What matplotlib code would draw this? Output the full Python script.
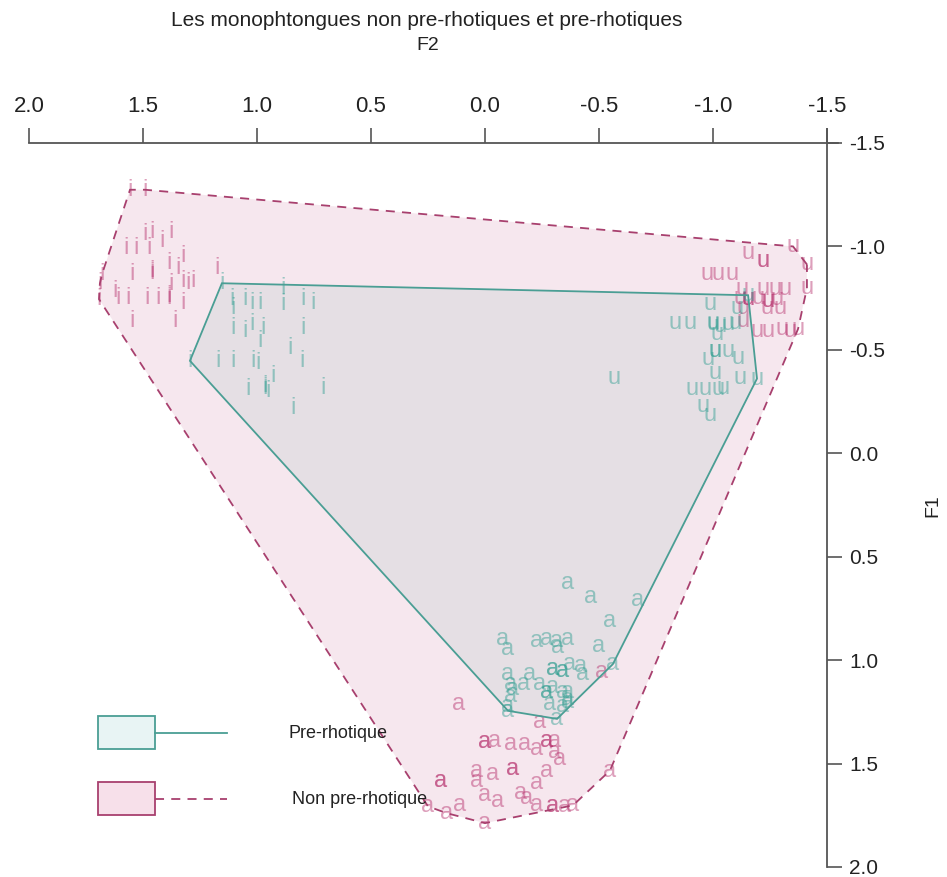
import matplotlib
matplotlib.use('Agg')
import matplotlib.pyplot as plt
from matplotlib.patches import Polygon, Rectangle
from matplotlib.lines import Line2D

plt.rcParams['font.family'] = ['Liberation Sans', 'DejaVu Sans']

# ---------------- data (F2, F1 normalised) ----------------
# non pre-rhotic /i/
nonpre_i_f2 = [1.557, 1.491, 1.491, 1.461, 1.417, 1.377, 1.575, 1.531, 1.474, 1.325,
               1.386, 1.461, 1.461, 1.548, 1.346, 1.680, 1.325, 1.303, 1.281, 1.377,
               1.175, 1.623, 1.610, 1.566, 1.482, 1.434, 1.386, 1.693, 1.325, 1.548,
               1.360, 1.689, 1.386]
nonpre_i_f1 = [-1.274, -1.274, -1.058, -1.072, -1.024, -1.072, -0.990, -0.990, -0.990, -0.952,
               -0.918, -0.880, -0.870, -0.865, -0.894, -0.865, -0.832, -0.822, -0.832, -0.817,
               -0.894, -0.784, -0.750, -0.750, -0.750, -0.750, -0.750, -0.745, -0.726, -0.639,
               -0.639, -0.822, -0.760]
# pre-rhotic /i/
pre_i_f2 = [1.294, 1.154, 0.886, 0.886, 1.110, 1.053, 1.022, 0.987, 0.798, 0.754,
            1.105, 1.053, 1.022, 0.987, 0.974, 0.798, 0.855, 0.803, 1.171, 1.105,
            1.018, 0.996, 0.930, 0.965, 0.952, 1.039, 0.711, 0.842, 0.965, 1.105]
pre_i_f1 = [-0.447, -0.822, -0.798, -0.721, -0.745, -0.745, -0.726, -0.726, -0.745, -0.726,
            -0.606, -0.591, -0.625, -0.543, -0.606, -0.606, -0.510, -0.447, -0.447, -0.447,
            -0.447, -0.438, -0.375, -0.317, -0.303, -0.313, -0.317, -0.221, -0.325, -0.700]
# non pre-rhotic /u/
nonpre_u_f2 = [-1.154, -1.219, -1.219, -1.351, -1.412, -0.974, -1.022, -1.083, -1.127, -1.219,
               -1.272, -1.316, -1.412, -1.118, -1.154, -1.154, -1.197, -1.241, -1.241, -1.281,
               -1.294, -1.237, -1.132, -1.193, -1.241, -1.303, -1.338, -1.373, -1.132]
nonpre_u_f1 = [-0.966, -0.928, -0.928, -1.000, -0.913, -0.865, -0.865, -0.865, -0.793, -0.793,
               -0.793, -0.793, -0.798, -0.750, -0.745, -0.745, -0.750, -0.736, -0.736, -0.745,
               -0.702, -0.702, -0.702, -0.591, -0.591, -0.601, -0.591, -0.601, -0.639]
# pre-rhotic /u/
pre_u_f2 = [-0.833, -0.899, -1.000, -1.031, -1.066, -1.096, -1.018, -1.009, -1.009, -0.978,
            -1.066, -1.110, -1.009, -1.118, -1.193, -0.908, -0.965, -1.022, -1.044, -0.956,
            -0.987, -0.987, -0.566, -1.154, -1.105, -1.000]
pre_u_f1 = [-0.630, -0.630, -0.625, -0.615, -0.625, -0.630, -0.577, -0.495, -0.495, -0.457,
            -0.495, -0.462, -0.389, -0.365, -0.361, -0.313, -0.313, -0.313, -0.317, -0.231,
            -0.183, -0.721, -0.365, -0.764, -0.702, -0.630]
# pre-rhotic /a/
pre_a_f2 = [-0.360, -0.461, -0.667, -0.548, -0.079, -0.101, -0.228, -0.272, -0.316, -0.364,
            -0.320, -0.496, -0.298, -0.298, -0.342, -0.342, -0.373, -0.417, -0.430, -0.561,
            -0.101, -0.197, -0.110, -0.123, -0.167, -0.241, -0.272, -0.272, -0.298, -0.338,
            -0.364, -0.364, -0.110, -0.101, -0.285, -0.101, -0.316, -0.342, -0.360]
pre_a_f1 = [0.625, 0.697, 0.707, 0.812, 0.899, 0.947, 0.909, 0.899, 0.909, 0.899,
            0.938, 0.933, 1.043, 1.043, 1.053, 1.053, 1.019, 1.029, 1.067, 1.019,
            1.067, 1.067, 1.115, 1.139, 1.115, 1.115, 1.154, 1.154, 1.130, 1.154,
            1.154, 1.202, 1.173, 1.221, 1.212, 1.245, 1.284, 1.221, 1.188]
# non pre-rhotic /a/
nonpre_a_f2 = [0.118, -0.241, 0.000, 0.000, -0.044, -0.110, -0.175, -0.228, -0.272, -0.272,
               -0.307, -0.307, -0.329, 0.197, 0.197, 0.035, 0.035, -0.031, -0.123, -0.123,
               -0.272, -0.228, -0.548, 0.250, 0.167, 0.110, 0.000, -0.053, -0.154, -0.184,
               -0.228, -0.298, -0.298, -0.351, -0.386, 0.000, -0.513]
nonpre_a_f1 = [1.212, 1.298, 1.394, 1.394, 1.389, 1.404, 1.404, 1.428, 1.389, 1.389,
               1.389, 1.442, 1.476, 1.582, 1.582, 1.534, 1.582, 1.548, 1.524, 1.524,
               1.534, 1.596, 1.534, 1.707, 1.740, 1.702, 1.654, 1.683, 1.644, 1.668,
               1.702, 1.707, 1.707, 1.707, 1.702, 1.788, 1.058]

x_ticks = [2.0, 1.5, 1.0, 0.5, 0.0, -0.5, -1.0, -1.5]
y_ticks = [-1.5, -1.0, -0.5, 0.0, 0.5, 1.0, 1.5, 2.0]
title = "Les monophtongues non pre-rhotiques et pre-rhotiques"
legend_labels = ["Pre-rhotique", "Non pre-rhotique"]

# ---------------- styles ----------------
TEAL = '#2a9c8e'
PINK = '#b42a68'
TEAL_LINE = '#4a9e94'
PINK_LINE = '#a8406e'


def convex_hull(xs, ys):
    pts = sorted(set(zip(xs, ys)))

    def cross(o, a, b):
        return (a[0] - o[0]) * (b[1] - o[1]) - (a[1] - o[1]) * (b[0] - o[0])
    lower = []
    for p in pts:
        while len(lower) >= 2 and cross(lower[-2], lower[-1], p) <= 0:
            lower.pop()
        lower.append(p)
    upper = []
    for p in reversed(pts):
        while len(upper) >= 2 and cross(upper[-2], upper[-1], p) <= 0:
            upper.pop()
        upper.append(p)
    return lower[:-1] + upper[:-1]


W, H = 947, 877
fig = plt.figure(figsize=(W / 100, H / 100), dpi=100)

xl = (2.06, -1.62)
yl = (2.02, -1.60)
ppx = 798 / 3.5
ppy = 724 / 3.5
left_px = 29 - (xl[0] - 2.0) * ppx
right_px = 827 + (-1.5 - xl[1]) * ppx
top_px = 143 - (-1.5 - yl[1]) * ppy
bot_px = 867 + (yl[0] - 2.0) * ppy
ax = fig.add_axes([left_px / W, 1 - bot_px / H, (right_px - left_px) / W, (bot_px - top_px) / H])
ax.set_xlim(xl)
ax.set_ylim(yl)
ax.patch.set_alpha(0)

# hulls
pre_x = pre_i_f2 + pre_u_f2 + pre_a_f2
pre_y = pre_i_f1 + pre_u_f1 + pre_a_f1
non_x = nonpre_i_f2 + nonpre_u_f2 + nonpre_a_f2
non_y = nonpre_i_f1 + nonpre_u_f1 + nonpre_a_f1

hn = convex_hull(non_x, non_y)
hp = convex_hull(pre_x, pre_y)
ax.add_patch(Polygon(hn, closed=True, facecolor=PINK, alpha=0.11, edgecolor='none', zorder=1))
ax.add_patch(Polygon(hp, closed=True, facecolor='#3f8f88', alpha=0.09, edgecolor='none', zorder=2))
ax.add_patch(Polygon(hn, closed=True, facecolor='none', edgecolor=PINK_LINE, lw=1.3,
                     linestyle=(0, (5, 4)), zorder=4))
ax.add_patch(Polygon(hp, closed=True, facecolor='none', edgecolor=TEAL_LINE, lw=1.3, zorder=4))

# vowel tokens
def tokens(xs, ys, ch, col):
    for x, y in zip(xs, ys):
        ax.text(x, y, ch, color=col, alpha=0.45, fontsize=17, ha='center', va='center',
                zorder=3)

tokens(nonpre_i_f2, nonpre_i_f1, 'i', PINK)
tokens(pre_i_f2, pre_i_f1, 'i', TEAL)
tokens(nonpre_u_f2, nonpre_u_f1, 'u', PINK)
tokens(pre_u_f2, pre_u_f1, 'u', TEAL)
tokens(pre_a_f2, pre_a_f1, 'a', TEAL)
tokens(nonpre_a_f2, nonpre_a_f1, 'a', PINK)

# axes (top and right)
for s in ['left', 'bottom']:
    ax.spines[s].set_visible(False)
ax.spines['top'].set_position(('data', -1.5))
ax.spines['right'].set_position(('data', -1.5))
ax.spines['top'].set_bounds(-1.55, 2.0)
ax.spines['right'].set_bounds(-1.57, 2.0)
for s in ['top', 'right']:
    ax.spines[s].set_color('#555555')
    ax.spines[s].set_linewidth(1.3)
ax.xaxis.tick_top()
ax.yaxis.tick_right()
ax.set_xticks(x_ticks)
ax.set_yticks(y_ticks)
ax.set_xticklabels([f"{v:.1f}" for v in x_ticks])
ax.set_yticklabels([f"{v:.1f}" for v in y_ticks])
ax.tick_params(axis='x', direction='out', length=11, width=1.2, color='#555555',
               labelsize=16, pad=8, labelcolor='#222222')
ax.tick_params(axis='y', direction='out', length=11, width=1.2, color='#555555',
               labelsize=15, pad=5, labelcolor='#222222')

def fx(px):
    return px / W

def fy(py):
    return 1 - py / H

fig.text(fx(427), fy(20), title, ha='center', va='center', fontsize=15, color='#222222')
fig.text(fx(428), fy(46), 'F2', ha='center', va='center', fontsize=14, color='#222222')
fig.text(fx(933), fy(506), 'F1', ha='center', va='center', fontsize=14, rotation=90,
         color='#222222')

# legend
fig.add_artist(Rectangle((fx(98), fy(749)), fx(155) - fx(98), fy(716) - fy(749),
                         transform=fig.transFigure, facecolor='#e8f4f4', edgecolor=TEAL_LINE, lw=1.3))
fig.add_artist(Line2D([fx(155), fx(227)], [fy(733), fy(733)], transform=fig.transFigure,
                      color=TEAL_LINE, lw=1.3))
fig.add_artist(Rectangle((fx(98), fy(815)), fx(155) - fx(98), fy(782) - fy(815),
                         transform=fig.transFigure, facecolor='#f7e0ea', edgecolor=PINK_LINE, lw=1.3))
fig.add_artist(Line2D([fx(155), fx(227)], [fy(799), fy(799)], transform=fig.transFigure,
                      color=PINK_LINE, lw=1.3, linestyle=(0, (5, 4))))
fig.text(fx(288), fy(733), legend_labels[0], ha='left', va='center', fontsize=13, color='#222222')
fig.text(fx(292), fy(800), legend_labels[1], ha='left', va='center', fontsize=13, color='#222222')

fig.savefig('out.png', dpi=100)
